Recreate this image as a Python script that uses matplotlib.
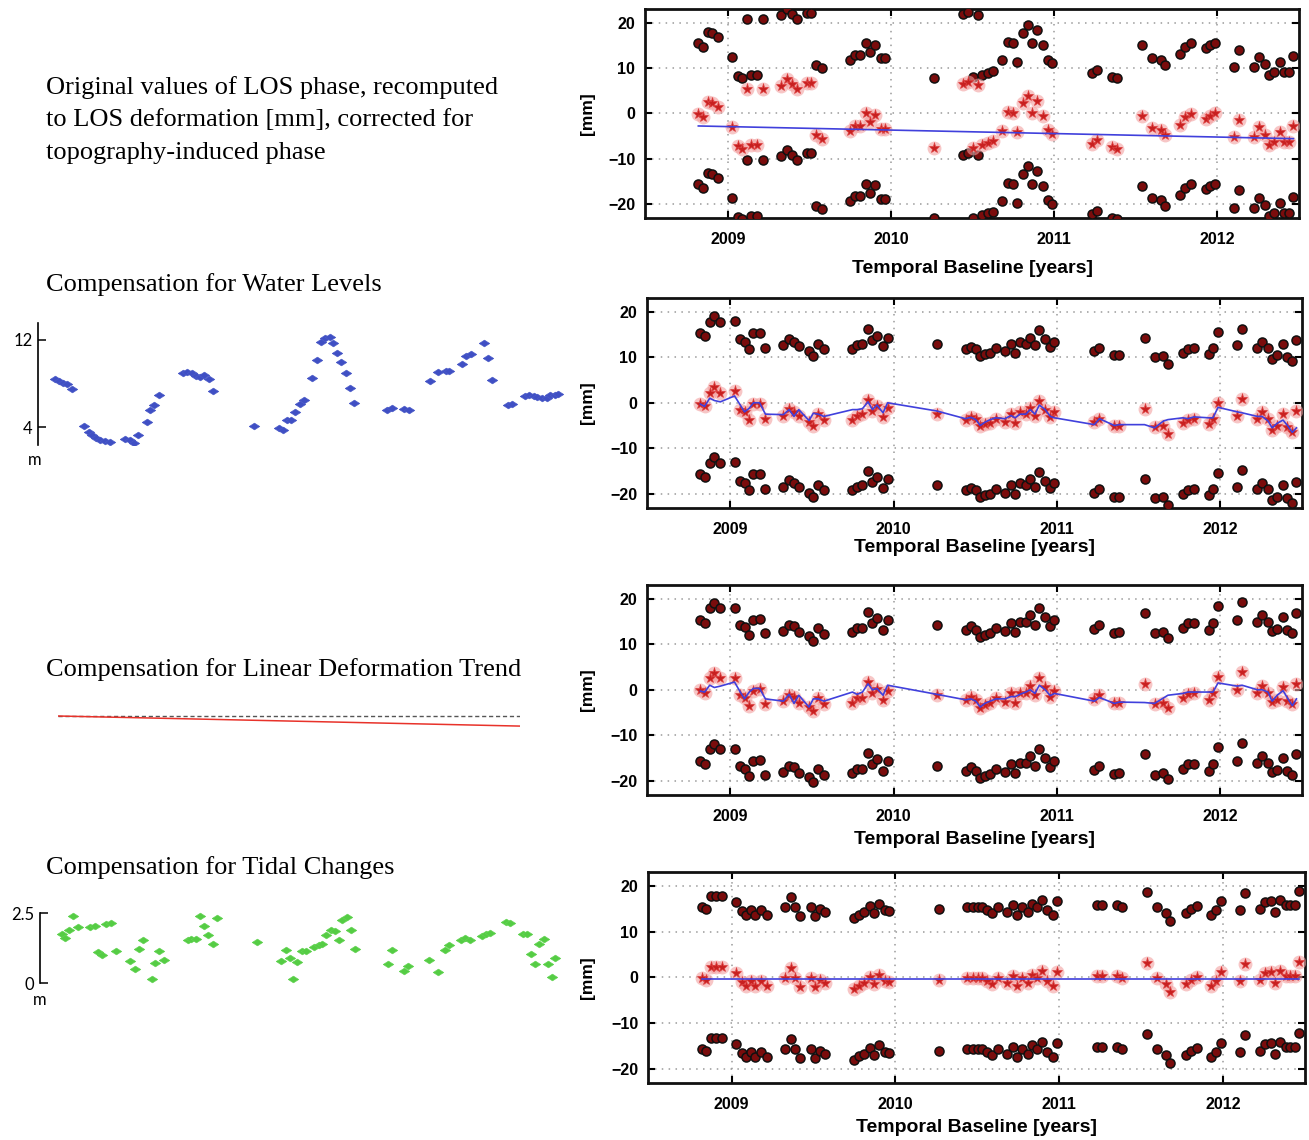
import matplotlib
matplotlib.use("Agg")
import matplotlib.pyplot as plt
import numpy as np

# ---------------- data ----------------
dates = [2008.817, 2008.843, 2008.874, 2008.902, 2008.939,
         2009.026, 2009.061, 2009.087, 2009.116, 2009.142, 2009.179, 2009.215,
         2009.325, 2009.360, 2009.390, 2009.419, 2009.482, 2009.508, 2009.539, 2009.573,
         2009.748, 2009.776, 2009.809, 2009.843, 2009.870, 2009.898, 2009.935, 2009.963,
         2010.264,
         2010.440, 2010.473, 2010.503, 2010.530, 2010.558, 2010.591, 2010.626, 2010.681, 2010.718,
         2010.744, 2010.773, 2010.810, 2010.836, 2010.865, 2010.892, 2010.928, 2010.959, 2010.984,
         2011.229, 2011.260, 2011.352, 2011.382,
         2011.536, 2011.597, 2011.652, 2011.679, 2011.771, 2011.802, 2011.838, 2011.928, 2011.955, 2011.986,
         2012.104, 2012.133, 2012.227, 2012.256, 2012.292, 2012.317, 2012.348, 2012.384, 2012.411, 2012.441, 2012.466]

# Panel 1: original LOS deformation (wrapped), mm
los_original = [-0.1, -0.9, 2.4, 2.2, 1.3,
                -3.1, -7.3, -7.8, 5.3, -7.1, -7.1, 5.3,
                6.1, 7.5, 6.4, 5.3, 6.7, 6.7, -4.9, -5.6,
                -3.8, -2.7, -2.7, 0.0, -2.0, -0.4, -3.4, -3.4,
                -7.7,
                6.4, 6.8, -7.6, 6.2, -7.0, -6.6, -6.2, -3.8, 0.2,
                0.0, -4.2, 2.2, 3.9, 0.0, 2.8, -0.5, -3.7, -4.5,
                -6.7, -6.0, -7.5, -7.8,
                -0.5, -3.2, -3.7, -4.9, -2.5, -0.9, -0.1, -1.2, -0.5, 0.0,
                -5.3, -1.5, -5.3, -3.1, -4.7, -7.1, -6.4, -4.2, -6.4, -6.4, -2.9]
los_original_fit_t = [2008.817, 2012.466]
los_original_fit = [-2.8, -5.6]

# Panel 2: after water level compensation
los_water = [-0.2, -0.8, 2.2, 3.5, 2.2,
             2.5, -1.6, -2.1, -3.7, -0.2, -0.2, -3.5,
             -2.9, -1.4, -2.1, -3.0, -4.2, -5.2, -2.5, -3.7,
             -3.7, -2.9, -2.5, 0.6, -1.8, -0.8, -3.1, -1.2,
             -2.5,
             -3.7, -3.2, -3.6, -5.2, -4.7, -4.5, -3.5, -4.2, -2.5,
             -4.5, -2.1, -2.5, -1.2, -2.9, 0.4, -1.6, -3.2, -2.1,
             -4.2, -3.5, -5.1, -5.1,
             -1.3, -5.4, -5.2, -6.9, -4.5, -3.7, -3.5, -4.7, -3.5, 0.0,
             -2.9, 0.8, -3.5, -2.1, -3.5, -5.9, -5.1, -2.5, -5.4, -6.4, -1.8]
los_water_fit = [-0.3, -0.8, 1.0, 0.5, 0.2,
                 1.5, -0.5, -2.0, -1.2, 0.0, 0.0, -2.5,
                 -2.6, -1.5, -3.0, -1.5, -3.9, -2.3, -2.5, -3.0,
                 -1.5, -1.5, -1.3, 0.2, -1.5, -0.5, -2.2, 0.0,
                 -1.8,
                 -3.5, -3.2, -3.7, -5.0, -4.3, -3.7, -3.3, -3.5, -2.8,
                 -3.3, -2.5, -2.5, -1.5, -2.5, -0.5, -1.5, -3.0, -3.3,
                 -4.8, -3.5, -5.0, -4.8,
                 -4.8, -5.5, -4.0, -3.7, -3.3, -3.5, -3.1, -3.3, -3.3, -1.0,
                 -2.0, -2.2, -3.0, -3.0, -4.0, -5.5, -4.5, -3.8, -5.0, -6.5, -5.5]

# Panel 3: after linear trend compensation
los_trend = [-0.1, -0.8, 2.5, 3.6, 2.5,
             2.5, -1.2, -1.8, -3.5, -0.2, 0.1, -3.1,
             -2.5, -1.2, -1.5, -2.8, -3.7, -4.7, -1.9, -3.2,
             -2.8, -1.9, -1.9, 1.6, -0.8, 0.2, -2.3, -0.2,
             -1.2,
             -2.3, -1.5, -2.3, -3.9, -3.4, -3.0, -1.9, -2.6, -0.8,
             -2.8, -0.6, -0.6, 0.9, -1.2, 2.5, 0.5, -1.5, -0.2,
             -2.1, -1.2, -3.0, -2.8,
             1.3, -3.1, -2.8, -4.1, -1.9, -0.9, -0.8, -2.3, -0.8, 2.9,
             -0.1, 3.8, -0.6, 0.9, -0.6, -2.6, -2.2, 0.5, -2.4, -3.1, 1.3]
los_trend_fit = [-0.3, -0.5, 1.0, 0.5, 0.8,
                 1.7, -0.5, -2.0, -0.5, 0.3, 0.3, -2.0,
                 -2.5, -1.0, -3.0, -1.2, -3.8, -2.0, -2.0, -2.5,
                 -0.5, -1.0, -0.5, 1.3, 0.0, 0.3, -1.2, 1.0,
                 -1.0,
                 -2.2, -2.0, -2.5, -3.8, -3.0, -2.5, -2.0, -2.0, -1.5,
                 -1.5, -1.0, -0.5, 0.0, -0.8, 1.0, 0.0, -1.3, -0.8,
                 -2.5, -1.7, -3.0, -2.7,
                 -2.8, -3.0, -1.8, -1.2, -0.8, -0.5, -0.5, -0.5, -0.5, 1.5,
                 0.8, 1.0, 0.0, 0.0, -0.5, -2.5, -1.2, -0.2, -1.8, -3.5, -2.0]

# Panel 4: after tidal compensation
los_tide = [-0.2, -0.5, 2.2, 2.2, 2.2,
            0.9, -1.0, -2.0, -0.9, -2.0, -0.9, -2.0,
            -0.2, 2.0, -0.2, -2.2, -0.2, -2.2, -0.5, -1.3,
            -2.5, -1.8, -1.3, 0.0, -1.5, 0.6, -0.9, -1.0,
            -0.5,
            -0.2, -0.2, -0.2, -0.2, -0.8, -1.5, -0.2, -1.3, 0.2,
            -2.0, -0.2, -1.3, 0.6, -0.2, 1.3, -0.9, -2.0, 1.1,
            0.2, 0.2, 0.2, -0.2,
            3.1, -0.2, -1.5, -3.2, -1.5, -0.5, 0.0, -2.0, -0.8, 1.1,
            -0.9, 2.9, -0.5, 0.9, 1.1, -1.3, 1.3, 0.2, 0.2, 0.2, 3.3]
los_tide_fit_t = [2008.817, 2012.466]
los_tide_fit = [-0.3, -0.3]

# half-wavelength phase ambiguity [mm]
ambiguity = 15.5

# Left column: water level [m]
water_level = [8.46, 8.2, 8.06, 7.94, 7.54,
               4.06, 3.54, 3.23, 3.02, 2.83, 2.71, 2.62,
               2.92, 2.77, 2.52, 3.23, 4.46, 5.54, 6.06, 6.92,
               8.92, 9.08, 8.92, 8.7, 8.62, 8.77, 8.46, 7.32,
               4.06,
               3.94, 3.69, 4.62, 4.62, 5.38, 6.15, 6.46, 8.52, 10.15,
               11.85, 12.15, 12.3, 11.7, 10.8, 10.0, 8.92, 7.63, 6.22,
               5.6, 5.78, 5.63, 5.6,
               8.25, 9.08, 9.14, 9.14, 9.78, 10.52, 10.71, 11.7, 10.3, 8.3,
               6.06, 6.15, 6.86, 6.92, 6.83, 6.75, 6.7, 6.7, 6.92, 6.98, 7.0]

# Left column: linear deformation trend [mm]
trend_t = [2008.817, 2012.466]
trend_val = [0.0, -2.9]

# Left column: tide level [m]
tide_level = [1.76, 1.6, 1.89, 2.41, 2.01,
              2.0, 2.04, 1.1, 1.01, 2.12, 2.14, 1.13,
              0.79, 0.51, 1.2, 1.54, 0.16, 0.73, 1.13, 0.83,
              1.54, 1.56, 1.56, 2.41, 2.04, 1.73, 1.41, 2.31,
              1.46,
              0.79, 1.19, 0.89, 0.16, 0.76, 1.13, 1.13, 1.29, 1.35,
              1.41, 1.73, 1.91, 1.85, 1.54, 2.26, 2.35, 1.91, 1.23,
              0.69, 1.19, 0.44, 0.6,
              0.83, 0.41, 1.19, 1.35, 1.54, 1.6, 1.54, 1.69, 1.75, 1.8,
              2.19, 2.16, 1.76, 1.76, 1.04, 0.69, 1.38, 1.56, 0.69, 0.23, 0.91]

year_ticks = [2009, 2010, 2011, 2012]
mm_ticks = [-20, -10, 0, 10, 20]

left_texts = ["Original values of LOS phase, recomputed\nto LOS deformation [mm], corrected for\ntopography-induced phase",
              "Compensation for Water Levels",
              "Compensation for Linear Deformation Trend",
              "Compensation for Tidal Changes"]
xlabel_text = "Temporal Baseline [years]"
ylabel_text = "[mm]"

# ---------------- figure ----------------
W, H = 1309, 1140
fig = plt.figure(figsize=(W / 100, H / 100), dpi=100)
fig.patch.set_facecolor("white")


def ax_px(l, t, r, b):
    return fig.add_axes([l / W, 1 - b / H, (r - l) / W, (b - t) / H])


NARROW = ["Liberation Sans Narrow", "Liberation Sans", "DejaVu Sans"]
SERIF = ["Liberation Serif", "DejaVu Serif"]
SANS = ["Lato", "DejaVu Sans"]

# slightly elongated diamond marker for the mini plots
flat_diamond = [(-1.25, 0.0), (0.0, 0.8), (1.25, 0.0), (0.0, -0.8), (-1.25, 0.0)]

d = np.array(dates)


def right_panel(box, vals, fit_t, fit_v, xl_y):
    ax = ax_px(*box)
    v = np.array(vals)
    ax.set_xlim(2008.49, 2012.50)
    ax.set_ylim(-23.1, 23.0)
    ax.set_xticks(year_ticks)
    ax.set_yticks(mm_ticks)
    ax.grid(True, color="#9a9a9a", linestyle=(0, (1, 3.5)), linewidth=1.1)
    ax.set_axisbelow(True)
    # ambiguity copies (dark dots)
    for off in (ambiguity, -ambiguity):
        ax.plot(d, v + off, linestyle="none", marker="o", markersize=6.5,
                markerfacecolor="#7a0c0c", markeredgecolor="#101010",
                markeredgewidth=1.1, zorder=3)
    # red stars with glow
    ax.plot(d, v, linestyle="none", marker="o", markersize=10,
            markerfacecolor="#f2a0a0", markeredgecolor="none", alpha=0.6, zorder=3)
    ax.plot(d, v, linestyle="none", marker="*", markersize=8,
            markerfacecolor="#c82020", markeredgecolor="#dd4040",
            markeredgewidth=0.5, zorder=4)
    ax.plot(fit_t, fit_v, color="#4040dc", linewidth=1.2, zorder=5)
    for s in ax.spines.values():
        s.set_linewidth(2.0)
        s.set_color("#111111")
    ax.tick_params(direction="in", length=5, width=1.5, top=True, right=True)
    ax.tick_params(axis="x", pad=10)
    ax.tick_params(axis="y", pad=7)
    for lab in ax.get_xticklabels() + ax.get_yticklabels():
        lab.set_family(NARROW)
        lab.set_fontweight("bold")
        lab.set_fontsize(11.5)
    fig.text((box[0] + box[2]) / 2 / W, 1 - xl_y / H, xlabel_text,
             ha="center", va="center", family=NARROW, fontweight="bold",
             fontsize=14)
    fig.text(588 / W, 1 - (box[1] + box[3]) / 2 / H, ylabel_text,
             ha="center", va="center", rotation=90, family=NARROW,
             fontweight="bold", fontsize=12.5)
    return ax


right_panel((645, 9, 1299, 218), los_original, los_original_fit_t, los_original_fit, 268)
right_panel((647, 298, 1302, 508), los_water, dates, los_water_fit, 548)
right_panel((647, 585, 1302, 795), los_trend, dates, los_trend_fit, 840)
right_panel((648, 872, 1305, 1083), los_tide, los_tide_fit_t, los_tide_fit, 1127)

# ---------------- left texts ----------------
fig.text(46 / W, 1 - 120 / H, left_texts[0], ha="left", va="center", family=SERIF,
         fontsize=19, linespacing=1.62)
fig.text(46 / W, 1 - 285 / H, left_texts[1], ha="left", va="center", family=SERIF, fontsize=19)
fig.text(46 / W, 1 - 670 / H, left_texts[2], ha="left", va="center", family=SERIF, fontsize=19)
fig.text(46 / W, 1 - 868 / H, left_texts[3], ha="left", va="center", family=SERIF, fontsize=19)

# ---------------- water level mini plot ----------------
axw = ax_px(38, 323, 565, 445)
axw.plot(d, water_level, linestyle="none", marker=flat_diamond, markersize=7.5,
         color="#3f4fc4", markeredgecolor="#4a5ac8", markeredgewidth=0.5)
axw.set_xlim(2008.694, 2012.517)
axw.set_ylim(2.35, 13.56)
for k in ("top", "right", "bottom"):
    axw.spines[k].set_visible(False)
axw.spines["left"].set_linewidth(1.2)
axw.set_xticks([])
axw.set_yticks([4, 12])
axw.set_yticklabels(["4", "12"])
axw.tick_params(axis="y", direction="in", length=6, width=1.1, pad=4)
for lab in axw.get_yticklabels():
    lab.set_family(SANS)
    lab.set_fontsize(12)
axw.patch.set_visible(False)
fig.text(35 / W, 1 - 460 / H, "m", ha="center", va="center", family=SANS, fontsize=12)

# ---------------- linear trend mini plot ----------------
axt = ax_px(58, 700, 520, 740)
axt.plot(trend_t, [trend_val[0], trend_val[0]], color="#555555", linestyle=(0, (3, 2)), linewidth=1.0)
axt.plot(trend_t, trend_val, color="#e8322a", linewidth=1.1)
axt.set_xlim(trend_t[0], trend_t[1])
axt.set_ylim(trend_val[1] - 4.0, trend_val[0] + 4.6)
axt.axis("off")

# ---------------- tide mini plot ----------------
axd = ax_px(40, 905, 565, 990)
axd.plot(d, tide_level, linestyle="none", marker=flat_diamond, markersize=7.5,
         color="#55cc44", markeredgecolor="#62d452", markeredgewidth=0.5)
axd.set_xlim(2008.656, 2012.54)
axd.set_ylim(-0.25, 2.786)
for k in ("top", "right", "bottom"):
    axd.spines[k].set_visible(False)
axd.spines["left"].set_bounds(0, 2.5)
axd.spines["left"].set_linewidth(1.2)
axd.set_xticks([])
axd.set_yticks([0, 2.5])
axd.set_yticklabels(["0", "2.5"])
axd.tick_params(axis="y", direction="in", length=6, width=1.1, pad=4)
for lab in axd.get_yticklabels():
    lab.set_family(SANS)
    lab.set_fontsize(12)
axd.patch.set_visible(False)
fig.text(40 / W, 1 - 1000 / H, "m", ha="center", va="center", family=SANS, fontsize=12)

fig.savefig("out.png", dpi=100, facecolor="white")
